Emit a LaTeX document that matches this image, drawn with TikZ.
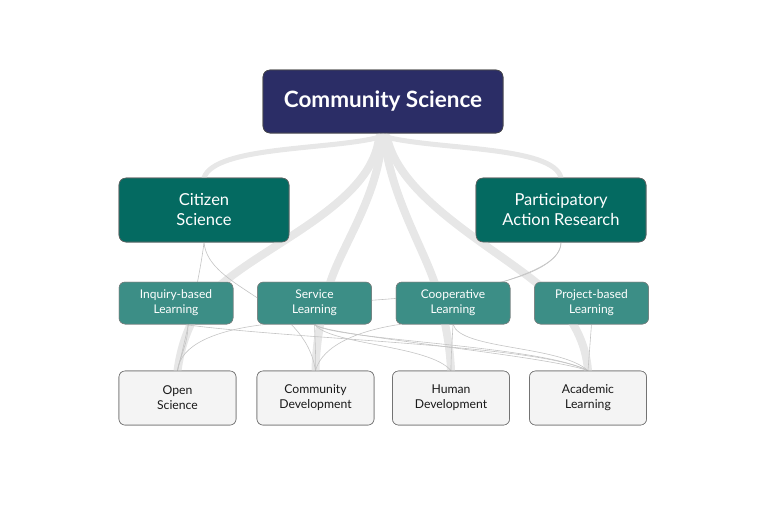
\documentclass[tikz,border=0pt]{standalone}
\usepackage{fontspec}
\setmainfont{Lato}
\usetikzlibrary{positioning}
\definecolor{csnavy}{RGB}{43,45,102}
\definecolor{teal1}{RGB}{4,106,97}
\definecolor{teal2}{RGB}{60,142,134}
\definecolor{outfill}{RGB}{244,244,244}
\definecolor{bandgray}{RGB}{231,231,231}
\definecolor{linkgray}{RGB}{196,196,196}

\begin{document}
\begin{tikzpicture}[x=1pt, y=-1pt, node distance=24pt,
      box/.style={rounded corners=7pt, align=center, inner sep=0pt},
      rootbox/.style={box, fill=csnavy, draw=black!70, line width=0.6pt,
                      minimum width=240pt, minimum height=63pt, text=white,
                      font=\fontsize{22.5}{26}\selectfont\bfseries},
      methodbox/.style={box, fill=teal1, draw=black!60, line width=0.6pt,
                        minimum width=170pt, minimum height=64pt, text=white,
                        font=\fontsize{16.5}{20}\selectfont},
      learnbox/.style={box, rounded corners=6pt, fill=teal2, draw=black!50,
                       line width=0.5pt, minimum width=114pt, minimum height=42pt,
                       text=white, font=\fontsize{12}{15}\selectfont},
      outbox/.style={box, rounded corners=6pt, fill=outfill, draw=black!55,
                     line width=0.6pt, minimum width=117pt, minimum height=54pt,
                     text=black!90, font=\fontsize{12.2}{15}\selectfont},
      band/.style={draw=bandgray, line width=8pt, line cap=round},
      sideband/.style={band, line width=5pt},
      link/.style={draw=linkgray, line width=0.6pt}]

    \useasboundingbox (0,0) rectangle (768,512);

    % nodes
    \node[rootbox] (cs) at (383,101.5) {Community Science};
    \node[methodbox] (cit) at (204,210) {Citizen\\Science};
    \node[methodbox] (par) at (561,210) {Participatory\\Action Research};

    \node[learnbox] (inq) at (176,303) {Inquiry-based\\Learning};
    \node[learnbox, right=of inq] (srv) {Service\\Learning};
    \node[learnbox, right=of srv] (coop) {Cooperative\\Learning};
    \node[learnbox, right=of coop] (proj) {Project-based\\Learning};

    \node[outbox] (open) at (177.5,398) {Open\\Science};
    \node[outbox] (cdev) at (315.5,398) {Community\\Development};
    \node[outbox] (hdev) at (451,398) {Human\\Development};
    \node[outbox] (acad) at (588,398) {Academic\\Learning};

    % wide bands from the root
    \draw[sideband] (cs.south) ++(-4,4) .. controls (330,150) and (215,146) .. (cit.north);
    \draw[sideband] (cs.south) ++(4,4) .. controls (440,150) and (553,146) .. (par.north);
    \draw[band] (cs.south) ++(-4,4) .. controls (372,205) and (262,245) .. (215,290)
                 .. controls (190,315) and (181,345) .. (open.north);
    \draw[band] (cs.south) ++(-1,4) .. controls (378,200) and (338,250) .. (328,290)
                 .. controls (320,320) and (316,345) .. (cdev.north);
    \draw[band] (cs.south) ++(1,4) .. controls (392,200) and (425,250) .. (437,290)
                 .. controls (445,320) and (450,345) .. (hdev.north);
    \draw[band] (cs.south) ++(4,4) .. controls (400,200) and (500,250) .. (545,290)
                 .. controls (575,318) and (586,345) .. (acad.north);

    % thin links
    \draw[link] (cit.south) .. controls (202,260) and (195,300) .. (open.north);
    \draw[link] (cit.south) .. controls (208,290) and (305,300) .. (cdev.north);
    \draw[link] (inq.south) ++(12,0) .. controls (188,345) and (180,355) .. (open.north);
    \draw[link] (inq.south) ++(6,0) .. controls (300,340) and (540,345) .. (acad.north);
    \draw[link] (par.south) .. controls (562,275) and (470,285) .. (coop.center);
    \draw[link] (par.south) .. controls (560,285) and (420,300) .. (srv.center);
    \draw[link] (srv.south) ++(-48,0) .. controls (215,330) and (180,345) .. (open.north);
    \draw[link] (srv.south) .. controls (315,340) and (316,355) .. (cdev.north);
    \draw[link] (srv.south) .. controls (330,345) and (430,345) .. (hdev.north);
    \draw[link] (srv.south) .. controls (330,340) and (540,345) .. (acad.north);
    \draw[link] (srv.south) .. controls (320,335) and (545,355) .. (acad.north);
    \draw[link] (coop.south) ++(-52,0) .. controls (360,330) and (322,345) .. (cdev.north);
    \draw[link] (coop.south) .. controls (452,345) and (451,355) .. (hdev.north);
    \draw[link] (coop.south) .. controls (460,350) and (560,345) .. (acad.north);
    \draw[link] (proj.south) -- (acad.north);

    % redraw boxes on top of the links
    \node[rootbox] at (cs) {Community Science};
    \node[methodbox] at (cit) {Citizen\\Science};
    \node[methodbox] at (par) {Participatory\\Action Research};
    \node[learnbox] at (inq) {Inquiry-based\\Learning};
    \node[learnbox] at (srv) {Service\\Learning};
    \node[learnbox] at (coop) {Cooperative\\Learning};
    \node[learnbox] at (proj) {Project-based\\Learning};
    \node[outbox] at (open) {Open\\Science};
    \node[outbox] at (cdev) {Community\\Development};
    \node[outbox] at (hdev) {Human\\Development};
    \node[outbox] at (acad) {Academic\\Learning};
  \end{tikzpicture}
\end{document}
